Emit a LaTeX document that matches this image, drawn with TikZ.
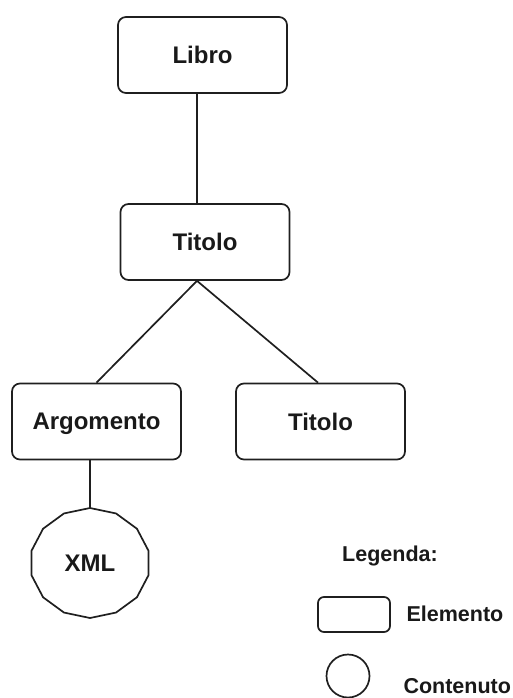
\documentclass[tikz,border=0pt]{standalone}
\usepackage{fontspec}
\setmainfont{Liberation Sans}
\begin{document}
\begin{tikzpicture}[x=1pt,y=-1pt,
  every node/.style={font=\bfseries\fontsize{24}{27}\selectfont, text=black!90, text depth=0pt},
  element/.style={draw=black!88, line width=1.7pt, rounded corners=8pt,
    minimum width=169pt, minimum height=76pt, inner sep=0pt},
  link/.style={draw=black!88, line width=1.7pt},
  legendtext/.style={font=\bfseries\fontsize{21.5}{24}\selectfont, anchor=west}]
  \useasboundingbox (0,0) rectangle (512,698);

  % tree of elements
  \node[element] (libro)     at (202.5,55)  {Libro};
  \node[element] (titolo)    at (205,242)   {Titolo};
  \node[element] (argomento) at (96.5,421.5) {Argomento};
  \node[element] (titolob)   at (320.5,421.5) {Titolo};

  % content node: many-sided polygon
  \node[circle, minimum size=110pt, inner sep=0pt] (xml) at (90,563) {XML};
  \draw[link, line join=round] (xml.center) +(90:60 and 55)
    \foreach \k in {1,...,13} { -- +(90+\k*360/14:60 and 55) } -- cycle;

  % connectors
  \draw[link] ([xshift=-5.5pt]libro.south) -- ([xshift=-8pt]titolo.north);
  \coordinate (fork) at ([xshift=-8pt]titolo.south);
  \draw[link, line join=round] (argomento.north) -- (fork) -- ([xshift=-2.5pt]titolob.north);
  \draw[link] ([xshift=-6.5pt]argomento.south) -- (xml.north);

  % legend
  \node[font=\bfseries\fontsize{21.5}{24}\selectfont] (legenda) at (390,554) {Legenda:};
  \node[draw=black!88, line width=1.7pt, rounded corners=6pt,
        minimum width=72pt, minimum height=35pt] (legbox) at (354,614.5) {};
  \node[legendtext] (elemento) at (403,614) {Elemento};
  \node[draw=black!88, line width=1.7pt, circle, minimum size=43pt, inner sep=0pt] (legcirc) at (348,676) {};
  \node[legendtext] (contenuto) at (400,686) {Contenuto};
\end{tikzpicture}
\end{document}
